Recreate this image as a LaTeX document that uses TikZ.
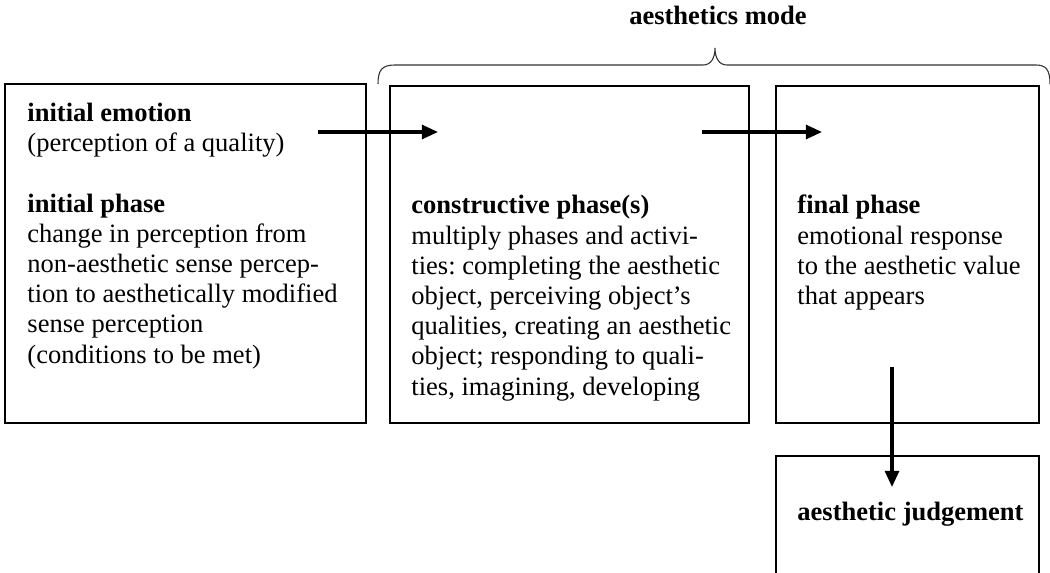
\documentclass[tikz,border=0pt]{standalone}
\usepackage{fontspec}
\setmainfont{Liberation Serif}
\usetikzlibrary{arrows.meta}
\frenchspacing

\tikzset{
  phasebox/.style={draw, line width=0.8pt},
  phasetext/.style={anchor=north west, inner sep=0pt, align=left,
    font=\fontsize{12.2pt}{13.9pt}\selectfont},
  flow/.style={line width=1.4pt, -{Triangle[length=7.4pt,width=6.4pt]}},
  modebrace/.style={line width=0.5pt, black!80},
}

\begin{document}
\begin{tikzpicture}[x=0.46pt,y=-0.46pt]
        \useasboundingbox (0,0) rectangle (1050,572);
        % boxes
        \draw[phasebox] (5,84) rectangle (366,423);
        \draw[phasebox] (390,86) rectangle (749,423);
        \draw[phasebox] (776,86) rectangle (1039,423);
        \draw[phasebox] (776,580) |- (1039,456) -- (1039,580);
        % brace over the aesthetics mode
        \draw[modebrace] (378,84) .. controls (378,70) and (382,65) .. (395,65) -- (703,65)
            .. controls (711,65) and (715,58) .. (715,48)
            .. controls (715,58) and (719,65) .. (727,65) -- (1036,65)
            .. controls (1046,65) and (1050,70) .. (1050,84);
        \node[anchor=base, inner sep=0pt, font=\fontsize{12.2pt}{13.9pt}\selectfont\bfseries] (mode) at (718,25) {aesthetics mode};
        % texts (top of the strut is 21px above the first baseline)
        \node[phasetext] (initial) at (27,99.8) {\strut\textbf{initial emotion}\\
            (perception of a quality)\\[13.9pt]
            \textbf{initial phase}\\
            change in perception from\\
            non-aesthetic sense percep-\\
            tion to aesthetically modified\\
            sense perception\\
            (conditions to be met)};
        \node[phasetext] (constructive) at (411,192.3) {\strut\textbf{constructive phase(s)}\\
            multiply phases and activi-\\
            ties: completing the aesthetic\\
            object, perceiving object’s\\
            qualities, creating an aesthetic\\
            object; responding to quali-\\
            ties, imagining, developing};
        \node[phasetext] (final) at (797,192.3) {\strut\textbf{final phase}\\
            emotional response\\
            to the aesthetic value\\
            that appears};
        \node[phasetext] (judgement) at (797,499.3) {\strut\textbf{aesthetic judgement}};
        % arrows
        \coordinate (e1) at (318,132);
        \coordinate (e2) at (438,132);
        \coordinate (c1) at (702,132);
        \coordinate (c2) at (822,132);
        \coordinate (f1) at (892,367);
        \coordinate (f2) at (892,487);
        \draw[flow] (e1) -- (e2);
        \draw[flow] (c1) -- (c2);
        \draw[flow] (f1) -- (f2);
\end{tikzpicture}
\end{document}
